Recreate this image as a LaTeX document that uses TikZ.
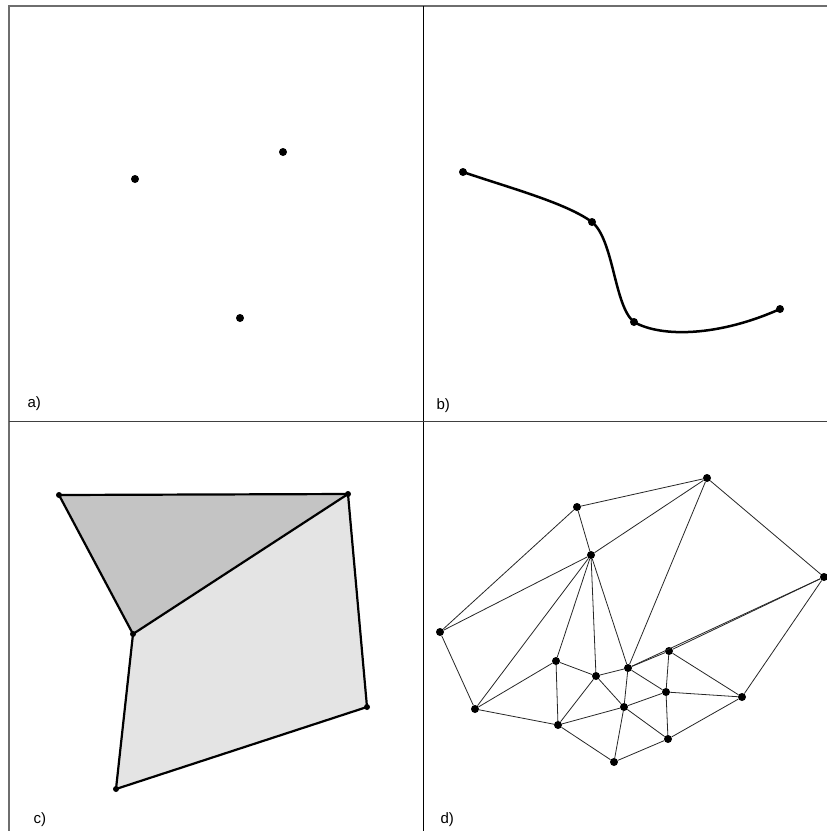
\documentclass[tikz,border=0pt]{standalone}
\usepackage{fontspec}
\setmainfont{Liberation Sans}
\usepackage{xcolor}
\usetikzlibrary{positioning,backgrounds}
\definecolor{framegray}{RGB}{110,110,110}
\definecolor{darkfill}{RGB}{196,196,196}
\definecolor{lightfill}{RGB}{228,228,228}

\tikzset{
    dot/.style={circle, fill=black, inner sep=0pt, minimum size=8pt},
    smalldot/.style={circle, fill=black, inner sep=0pt, minimum size=6pt},
    edge/.style={line width=0.8pt, black!85},
    thickedge/.style={line width=2.2pt, black, line cap=round},
    panellabel/.style={anchor=base west, font=\fontsize{15}{18}\selectfont}
}

\begin{document}
\begin{tikzpicture}[x=1pt, y=-1pt]
    \useasboundingbox (0,0) rectangle (827,831);

    % Frame
    \draw[framegray, line width=2pt] (9,831) -- (9,6) -- (827,6);
    \draw[black, line width=1pt] (423,6) -- (423,831);
    \draw[black!75, line width=1pt] (9,421) -- (827,421);

    % Panel a - points
    \node[dot] (a1) at (135,179) {};
    \node[dot] (a2) at (283,152) {};
    \node[dot] (a3) at (240,318) {};
    \node[panellabel] (la) at (24,407) {a)};

    % Panel b - curve through points
    \node[dot] (b1) at (463,172) {};
    \node[dot] (b2) at (592,222) {};
    \node[dot] (b3) at (634,322) {};
    \node[dot] (b4) at (780,309) {};
    \draw[line width=2.5pt] (b1.center) .. controls (510,188) and (566,203) .. (b2.center)
        .. controls (614,240) and (614,306) .. (b3.center)
        .. controls (662,338) and (720,336) .. (b4.center);
    \node[panellabel] (lb) at (433,409) {b)};

    % Panel c - two faces
    \node[smalldot] (c1) at (59,495) {};
    \node[smalldot] (c2) at (348,494) {};
    \node[smalldot] (c3) at (133,634) {};
    \node[smalldot] (c4) at (367,707) {};
    \node[smalldot] (c5) at (116,789) {};
    \begin{scope}[on background layer]
        \fill[darkfill] (c1.center) -- (c2.center) -- (c3.center) -- cycle;
        \fill[lightfill] (c3.center) -- (c2.center) -- (c4.center) -- (c5.center) -- cycle;
    \end{scope}
    \draw[thickedge] (c1.center) -- (c2.center);
    \draw[thickedge] (c2.center) -- (c3.center);
    \draw[thickedge] (c3.center) -- (c1.center);
    \draw[thickedge] (c2.center) -- (c4.center);
    \draw[thickedge] (c4.center) -- (c5.center);
    \draw[thickedge] (c5.center) -- (c3.center);
    \node[panellabel] (lc) at (30,823) {c)};

    % Panel d - triangulation
    \node[dot] (dA) at (707,478) {};
    \node[dot] (dB) at (577,507) {};
    \node[dot] (dC) at (591,555) {};
    \node[dot] (dD) at (824,577) {};
    \node[dot] (dE) at (440,632) {};
    \node[dot] (dF) at (669,651) {};
    \node[dot] (dG) at (556,661) {};
    \node[dot] (dH) at (628,668) {};
    \node[dot] (dI) at (596,676) {};
    \node[dot] (dJ) at (666,692) {};
    \node[dot] (dK) at (742,697) {};
    \node[dot] (dL) at (624,707) {};
    \node[dot] (dM) at (475,709) {};
    \node[dot] (dN) at (558,725) {};
    \node[dot] (dO) at (668,739) {};
    \node[dot] (dP) at (614,762) {};

    % Edges
    \draw[edge] (dA) -- (dB);
    \draw[edge] (dA) -- (dC);
    \draw[edge] (dA) -- (dH);
    \draw[edge] (dA) -- (dD);
    \draw[edge] (dB) -- (dC);
    \draw[edge] (dB) -- (dE);
    \draw[edge] (dC) -- (dE);
    \draw[edge] (dC) -- (dM);
    \draw[edge] (dC) -- (dG);
    \draw[edge] (dC) -- (dI);
    \draw[edge] (dC) -- (dH);
    \draw[edge] (dD) -- (dF);
    \draw[edge] (dD) -- (dH);
    \draw[edge] (dF) -- (dH);
    \draw[edge] (dD) -- (dK);
    \draw[edge] (dE) -- (dM);
    \draw[edge] (dM) -- (dG);
    \draw[edge] (dM) -- (dN);
    \draw[edge] (dG) -- (dI);
    \draw[edge] (dG) -- (dN);
    \draw[edge] (dI) -- (dH);
    \draw[edge] (dI) -- (dN);
    \draw[edge] (dI) -- (dL);
    \draw[edge] (dH) -- (dL);
    \draw[edge] (dH) -- (dJ);
    \draw[edge] (dF) -- (dJ);
    \draw[edge] (dF) -- (dK);
    \draw[edge] (dJ) -- (dK);
    \draw[edge] (dJ) -- (dO);
    \draw[edge] (dN) -- (dL);
    \draw[edge] (dL) -- (dJ);
    \draw[edge] (dL) -- (dO);
    \draw[edge] (dL) -- (dP);
    \draw[edge] (dN) -- (dP);
    \draw[edge] (dP) -- (dO);
    \draw[edge] (dO) -- (dK);
    \node[panellabel] (ld) at (437,823) {d)};
\end{tikzpicture}
\end{document}
